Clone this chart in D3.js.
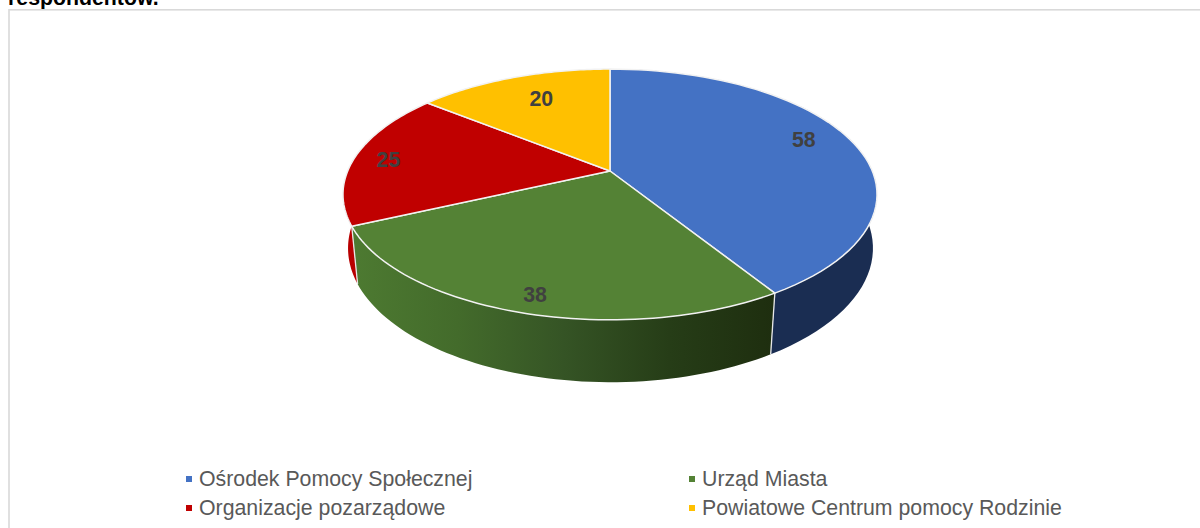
<!DOCTYPE html>
<html><head><meta charset="utf-8">
<script src="https://cdn.jsdelivr.net/npm/d3@7"></script>
<style>html,body{margin:0;padding:0;background:#fff;overflow:hidden}svg{display:block}</style>
</head><body><svg id="c" width="1200" height="528"></svg>
<script>
const categories = ["Ośrodek Pomocy Społecznej","Urząd Miasta","Organizacje pozarządowe","Powiatowe Centrum pomocy Rodzinie"];
const values = [58,38,25,20];
const topColors = ["#4472c4","#548235","#c00000","#ffc000"];
const titleTail = "respondentów.";

const svg = d3.select("#c");
const font = "'Liberation Sans',Arial,sans-serif";
const Top = {cx:610, y0:171, a:262.3, b:121, k:0.187};
const Bot = {cx:610.5, y0:225, a:258.5, b:130, k:0.173};
const pie = d3.pie().sort(null).value(d=>d).startAngle(0).endAngle(2*Math.PI);
const arcs = pie(values);
function proj(t, r, P){
  const u=Math.sin(t)*r, v=-Math.cos(t)*r, w=1-P.k*v;
  return [P.cx+P.a*u/w, P.y0+P.b*v/w];
}
const top_ = (t,r=1)=>proj(t,r,Top);
const bot_ = t=>proj(t,1,Bot);
const samples = (a0,a1)=>d3.range(0,61).map(i=>a0+(a1-a0)*i/60);
const line = d3.line();

svg.append("text").attr("x",8).attr("y",5).attr("font-family",font).attr("font-weight",700)
  .attr("font-size",21.3).attr("fill","#000").text(titleTail);
svg.append("rect").attr("x",9).attr("y",9.8).attr("width",1300).attr("height",600)
  .attr("fill","#fff").attr("stroke","#d9d9d9").attr("stroke-width",1.6);

const defs = svg.append("defs");
const g = defs.append("linearGradient").attr("id","gw").attr("gradientUnits","userSpaceOnUse")
  .attr("x1",352).attr("x2",775).attr("y1",0).attr("y2",0);
[[0,"#4d7a31"],[0.25,"#436b2b"],[0.5,"#355425"],[0.75,"#263d17"],[1,"#1e2e0f"]]
  .forEach(s=>g.append("stop").attr("offset",s[0]).attr("stop-color",s[1]));
const wallFill = ["#1a2d52","url(#gw)","#b80000","#ffc000"];

// walls
arcs.forEach((d,i)=>{
  if(i===3) return;
  const ts = samples(d.startAngle,d.endAngle);
  const pts = ts.map(t=>top_(t)).concat(ts.slice().reverse().map(t=>bot_(t)));
  svg.append("path").attr("d",line(pts)+"Z").attr("fill",wallFill[i]);
});
// seams
[arcs[0].endAngle, arcs[1].endAngle].forEach(t=>{
  svg.append("path").attr("d",line([top_(t),bot_(t)])).attr("stroke","#e8e8e8").attr("stroke-width",1.3).attr("fill","none");
});
// top faces
arcs.forEach((d,i)=>{
  const pts = [top_(0,0)].concat(samples(d.startAngle,d.endAngle).map(t=>top_(t)));
  svg.append("path").attr("d",line(pts)+"Z").attr("fill",topColors[i]).attr("stroke","#f2f2f2").attr("stroke-width",1.5).attr("stroke-linejoin","round");
});
// labels
const labelNudge = [[0,-5],[-5,16],[-17,1],[11,5]];
arcs.forEach((d,i)=>{
  const p = top_((d.startAngle+d.endAngle)/2,0.8);
  svg.append("text").attr("x",p[0]+labelNudge[i][0]).attr("y",p[1]+labelNudge[i][1]+7)
    .attr("text-anchor","middle").attr("font-family",font).attr("font-weight",700)
    .attr("font-size",21.3).attr("fill","#404040").text(d.data);
});
// legend
const legX = [186,689], legY = [479,508];
categories.forEach((c,i)=>{
  const x=legX[i%2], y=legY[i>>1];
  svg.append("rect").attr("x",x).attr("y",y-3).attr("width",6).attr("height",6).attr("fill",topColors[i]);
  svg.append("text").attr("x",x+13).attr("y",y+7).attr("font-family",font).attr("font-size",21.3).attr("fill","#595959").text(c);
});
</script></body></html>
